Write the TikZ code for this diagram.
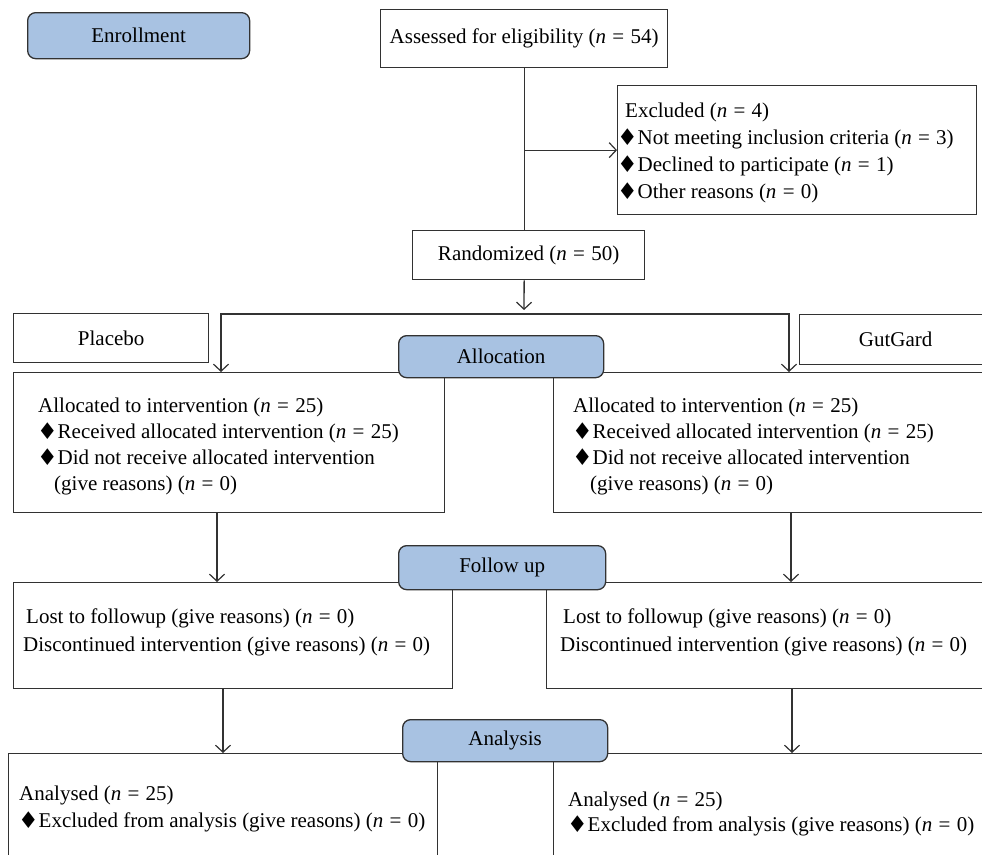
\documentclass[tikz,border=0pt]{standalone}
\usepackage{fontspec}
\setmainfont{Liberation Serif}
\newfontfamily\symfont{DejaVu Sans}
\usetikzlibrary{arrows.meta,calc}
\definecolor{boxblue}{RGB}{168,194,226}
\definecolor{edge}{RGB}{50,50,50}
\newcommand\dia{\makebox[19.5pt][l]{\hspace{-1pt}\raisebox{-1pt}{\symfont\fontsize{23}{23}\selectfont ♦}}}
\newcommand\nn[1]{\textit{n}\hspace{0.3em}=\hspace{0.3em}#1}
\begin{document}
\begin{tikzpicture}[x=1pt,y=-1pt,
  every node/.style={font=\fontsize{21}{26}\selectfont, text=black},
  box/.style={draw=edge, line width=1.3pt, fill=white, inner sep=0pt, anchor=north west},
  phase/.style={draw=edge, line width=1.3pt, fill=boxblue, rounded corners=8pt, inner sep=0pt, anchor=north west},
  conn/.style={draw=edge, line width=1.3pt},
  arr/.style={conn, -{Straight Barb[length=7pt,width=15pt,line width=1.2pt]}},
  txt/.style={anchor=base west, inner sep=0pt}]
\useasboundingbox (0,0) rectangle (982,854);
\clip (0,0) rectangle (982,854);

% plain boxes
\node[box, minimum width=287pt, minimum height=58pt] (assess) at (380,9) {Assessed for eligibility (\nn{54})};
\node[box, minimum width=359pt, minimum height=129pt] (excl) at (617,85) {};
\node[box, minimum width=232pt, minimum height=49pt] (rand) at (412,230) {Randomized (\nn{50})};
\node[box, minimum width=195pt, minimum height=49pt] (plac) at (13,313) {Placebo};
\node[box, minimum width=192pt, minimum height=50pt] (gut) at (799,314) {GutGard};
\node[box, minimum width=431pt, minimum height=140pt] (allocL) at (13,372) {};
\node[box, minimum width=440pt, minimum height=140pt] (allocR) at (553,372) {};
\node[box, minimum width=439pt, minimum height=106pt] (followL) at (13,582) {};
\node[box, minimum width=450pt, minimum height=106pt] (followR) at (546,582) {};
\node[box, minimum width=429pt, minimum height=120pt] (anaL) at (8,753) {};
\node[box, minimum width=440pt, minimum height=120pt] (anaR) at (553,753) {};

% texts
\node[txt] (ex1) at (625,117) {Excluded (\nn{4})};
\node[txt] (ex2) at (618,144) {\dia Not meeting inclusion criteria (\nn{3})};
\node[txt] (ex3) at (618,171) {\dia Declined to participate (\nn{1})};
\node[txt] (ex4) at (618,198) {\dia Other reasons (\nn{0})};

\node[txt] (al1) at (38,412) {Allocated to intervention (\nn{25})};
\node[txt] (al2) at (38,438) {\dia Received allocated intervention (\nn{25})};
\node[txt] (al3) at (38,464) {\dia Did not receive allocated intervention};
\node[txt] (al4) at (54,490) {(give reasons) (\nn{0})};

\node[txt] (ar1) at (573,412) {Allocated to intervention (\nn{25})};
\node[txt] (ar2) at (573,438) {\dia Received allocated intervention (\nn{25})};
\node[txt] (ar3) at (573,464) {\dia Did not receive allocated intervention};
\node[txt] (ar4) at (590,490) {(give reasons) (\nn{0})};

\node[txt] (fl1) at (26,623) {Lost to followup (give reasons) (\nn{0})};
\node[txt] (fl2) at (23,651) {Discontinued intervention (give reasons) (\nn{0})};
\node[txt] (fr1) at (563,623) {Lost to followup (give reasons) (\nn{0})};
\node[txt] (fr2) at (560,651) {Discontinued intervention (give reasons) (\nn{0})};

\node[txt] (nl1) at (19,800) {Analysed (\nn{25})};
\node[txt] (nl2) at (19,827) {\dia Excluded from analysis (give reasons) (\nn{0})};
\node[txt] (nr1) at (568,806) {Analysed (\nn{25})};
\node[txt] (nr2) at (568,831) {\dia Excluded from analysis (give reasons) (\nn{0})};

% connectors
\coordinate (split) at (524,314);
\draw[conn] (assess.south) -- (assess.south |- rand.north);
\draw[arr] (assess.south |- excl.west) -- (excl.west);
\draw[arr, shorten >=4pt] (assess.south |- rand.south) -- (split);
\draw[arr] (split) -| (221,0 |- allocL.north);
\draw[arr] (split) -| (789,0 |- allocR.north);
\draw[arr] (217,0 |- allocL.south) -- (217,0 |- followL.north);
\draw[arr] (791,0 |- allocR.south) -- (791,0 |- followR.north);
\draw[arr] (223,0 |- followL.south) -- (223,0 |- anaL.north);
\draw[arr] (792,0 |- followR.south) -- (792,0 |- anaR.north);

% phase boxes on top
\node[phase, minimum width=222pt, minimum height=46pt] (enr) at (27,12) {Enrollment};
\node[phase, minimum width=205pt, minimum height=42pt] (allocP) at (398,335) {Allocation};
\node[phase, minimum width=207pt, minimum height=44pt] (follP) at (398,545) {Follow up};
\node[phase, minimum width=205pt, minimum height=42pt] (anaP) at (402,719) {Analysis};
\end{tikzpicture}
\end{document}
